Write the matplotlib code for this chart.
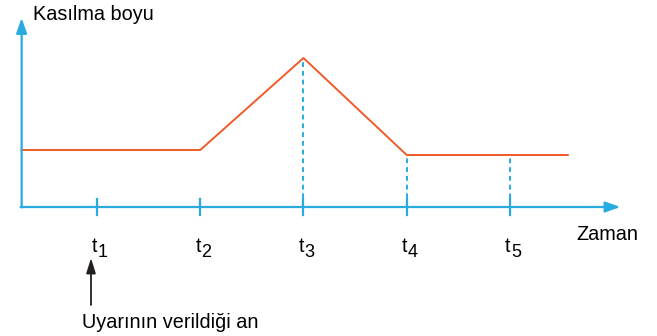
import matplotlib
matplotlib.use('Agg')
from matplotlib import pyplot as plt

plt.rcParams['font.family'] = ['Liberation Sans', 'DejaVu Sans']

# time marks on the x axis
tick_x = [1, 2, 3, 4, 5]
tick_sub = ['1', '2', '3', '4', '5']

# contraction length curve
curve_x = [0.27, 2, 3, 4, 5.56]
curve_y = [1.14, 1.14, 2.98, 1.04, 1.04]

# dashed guide lines down to the axis
guide_x = [3, 4, 5]
guide_y = [2.98, 1.04, 1.04]

blue = '#29abe2'
red = '#f15a29'
fs = 14.3

fig = plt.figure(figsize=(6.57, 3.36), dpi=100)
ax = fig.add_axes([0, 0, 1, 1])
ax.set_xlim(0.0605, 6.424)
ax.set_ylim(-2.58, 4.14)
ax.axis('off')

x0 = 0.27

# axes with arrowheads
ax.annotate('', xy=(6.07, 0), xytext=(x0 - 0.01, 0),
            arrowprops=dict(arrowstyle='-|>,head_length=0.9,head_width=0.32',
                            color=blue, lw=1.6, shrinkA=0, shrinkB=0))
ax.annotate('', xy=(x0, 3.78), xytext=(x0, -0.01),
            arrowprops=dict(arrowstyle='-|>,head_length=0.9,head_width=0.32',
                            color=blue, lw=1.6, shrinkA=0, shrinkB=0))

for x, sub in zip(tick_x, tick_sub):
    ax.plot([x, x], [-0.16, 0.16], color=blue, lw=1.6)
    ax.text(x + 0.005, -0.9, 't', fontsize=fs, ha='right', va='baseline')
    ax.text(x + 0.01, -1.0, sub, fontsize=13, ha='left', va='baseline')

for x, y in zip(guide_x, guide_y):
    ax.plot([x, x], [0, y], color=blue, lw=1.4, ls=(0, (2.5, 2)))

ax.plot(curve_x, curve_y, color=red, lw=1.4)

ax.text(0.38, 3.84, 'Kasılma boyu', fontsize=fs, ha='left', va='center')
ax.text(5.64, -0.56, 'Zaman', fontsize=fs, ha='left', va='center')

ax.annotate('', xy=(0.942, -1.02), xytext=(0.942, -1.96),
            arrowprops=dict(arrowstyle='-|>,head_length=0.9,head_width=0.28',
                            color='#231f20', lw=1.3, shrinkA=0, shrinkB=0))
ax.text(0.855, -2.3, 'Uyarının verildiği an', fontsize=fs, ha='left', va='center')

plt.savefig('out.png', dpi=100)
